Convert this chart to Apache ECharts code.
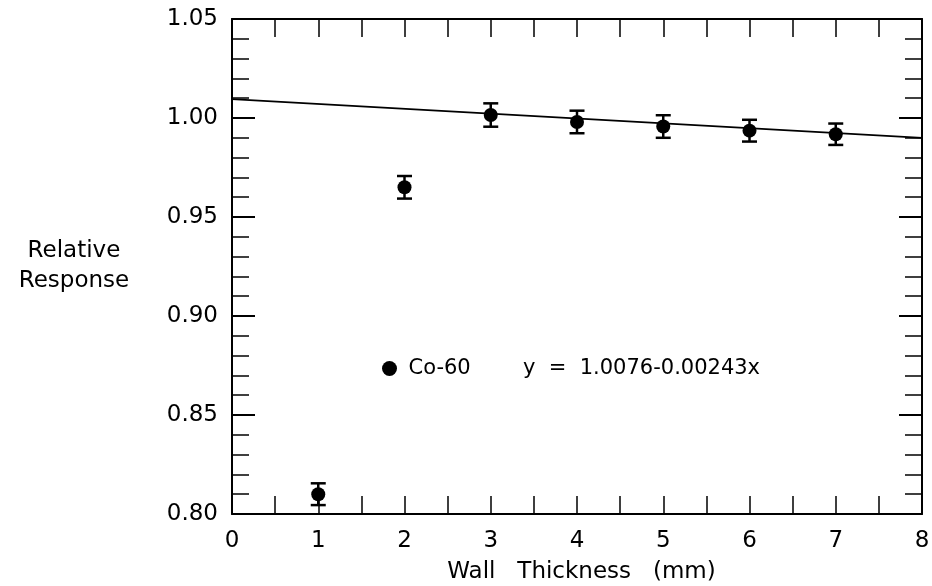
<!DOCTYPE html>
<html>
<head>
<meta charset="utf-8">
<script src="https://cdn.jsdelivr.net/npm/echarts@6/dist/echarts.min.js"></script>
<style>
  html, body { margin: 0; padding: 0; background: #ffffff; }
  #chart { width: 932px; height: 586px; }
</style>
</head>
<body>
<div id="chart"></div>
<script>
// wall thickness (mm) and relative response
var thickness = [1, 2, 3, 4, 5, 6, 7];
var response = [0.810, 0.965, 1.0015, 0.998, 0.9957, 0.9936, 0.9918];
var errors = [0.0055, 0.0057, 0.0059, 0.0057, 0.0057, 0.0055, 0.0054];

// fitted line end points
var fitX = [0, 8];
var fitY = [1.0095, 0.990];

var xTicks = [0, 1, 2, 3, 4, 5, 6, 7, 8];
var yTicks = ["0.80", "0.85", "0.90", "0.95", "1.00", "1.05"];

var seriesName = "Co-60";
var equation = "y  =  1.0076-0.00243x";

var font = "DejaVu Sans";

var chart = echarts.init(document.getElementById("chart"), null, { renderer: "canvas" });

function xAxisOf(pos, showLabel) {
  return {
    type: "value",
    position: pos,
    min: xTicks[0],
    max: xTicks[xTicks.length - 1],
    interval: 1,
    axisLine: { show: true, onZero: false, lineStyle: { color: "#000", width: 2 } },
    axisTick: { show: true, inside: true, length: 18, lineStyle: { color: "#000", width: 1.5 } },
    minorTick: { show: true, splitNumber: 2, length: 18, lineStyle: { color: "#000", width: 1.5 } },
    axisLabel: {
      show: showLabel,
      margin: 16,
      color: "#000",
      fontFamily: font,
      fontSize: 23,
      formatter: function (v) { return String(v); }
    },
    splitLine: { show: false },
    minorSplitLine: { show: false }
  };
}

function yAxisOf(pos, showLabel) {
  return {
    type: "value",
    position: pos,
    min: 0.8,
    max: 1.05,
    interval: 0.05,
    axisLine: { show: true, onZero: false, lineStyle: { color: "#000", width: 2 } },
    axisTick: { show: true, inside: true, length: 23, lineStyle: { color: "#000", width: 2 } },
    minorTick: { show: true, splitNumber: 5, length: 17, lineStyle: { color: "#000", width: 1.5 } },
    axisLabel: {
      show: showLabel,
      margin: 14,
      color: "#000",
      fontFamily: font,
      fontSize: 23,
      formatter: function (v) {
        var s = v.toFixed(2);
        return yTicks.indexOf(s) >= 0 ? s : "";
      }
    },
    splitLine: { show: false },
    minorSplitLine: { show: false }
  };
}

var xBottom = xAxisOf("bottom", true);
xBottom.name = "Wall   Thickness   (mm)";
xBottom.nameLocation = "middle";
xBottom.nameGap = 47;
xBottom.nameTextStyle = { color: "#000", fontFamily: font, fontSize: 23, padding: [0, 0, 0, 9] };

var yLeft = yAxisOf("left", true);
yLeft.name = "Relative\nResponse";
yLeft.nameLocation = "middle";
yLeft.nameRotate = 0;
yLeft.nameGap = 158;
yLeft.nameTextStyle = { color: "#000", fontFamily: font, fontSize: 23, lineHeight: 30, align: "center" };

var points = thickness.map(function (x, i) { return [x, response[i]]; });
var bars = thickness.map(function (x, i) { return [x, response[i] - errors[i], response[i] + errors[i]]; });
var fit = fitX.map(function (x, i) { return [x, fitY[i]]; });

chart.setOption({
  backgroundColor: "#ffffff",
  animation: false,
  grid: { left: 232, right: 10, top: 19, bottom: 72, containLabel: false, outerBoundsMode: "none" },
  legend: {
    data: [{ name: seriesName, icon: "circle", itemStyle: { color: "#000", opacity: 1 } }],
    left: 382,
    top: 358,
    padding: 0,
    itemWidth: 28,
    itemHeight: 15,
    textStyle: { color: "#000", fontFamily: font, fontSize: 21 }
  },
  graphic: [{
    type: "text",
    left: 523,
    top: 358,
    style: { text: equation, fill: "#000", font: "21px 'DejaVu Sans'" }
  }],
  xAxis: [xBottom, xAxisOf("top", false)],
  yAxis: [yLeft, yAxisOf("right", false)],
  series: [
    {
      name: "fit",
      type: "line",
      data: fit,
      symbol: "none",
      lineStyle: { color: "#000", width: 1.8 },
      silent: true
    },
    {
      name: "err",
      type: "custom",
      data: bars,
      renderItem: function (params, api) {
        var lo = api.coord([api.value(0), api.value(1)]);
        var hi = api.coord([api.value(0), api.value(2)]);
        var w = 7.5;
        var st = { stroke: "#000", lineWidth: 2.5 };
        return {
          type: "group",
          children: [
            { type: "line", shape: { x1: lo[0], y1: lo[1], x2: hi[0], y2: hi[1] }, style: st },
            { type: "line", shape: { x1: lo[0] - w, y1: lo[1], x2: lo[0] + w, y2: lo[1] }, style: st },
            { type: "line", shape: { x1: hi[0] - w, y1: hi[1], x2: hi[0] + w, y2: hi[1] }, style: st }
          ]
        };
      },
      silent: true,
      z: 3
    },
    {
      name: seriesName,
      type: "scatter",
      data: points,
      symbol: "circle",
      symbolSize: 14,
      itemStyle: { color: "#000", opacity: 1 },
      z: 4
    }
  ]
});
</script>
</body>
</html>
